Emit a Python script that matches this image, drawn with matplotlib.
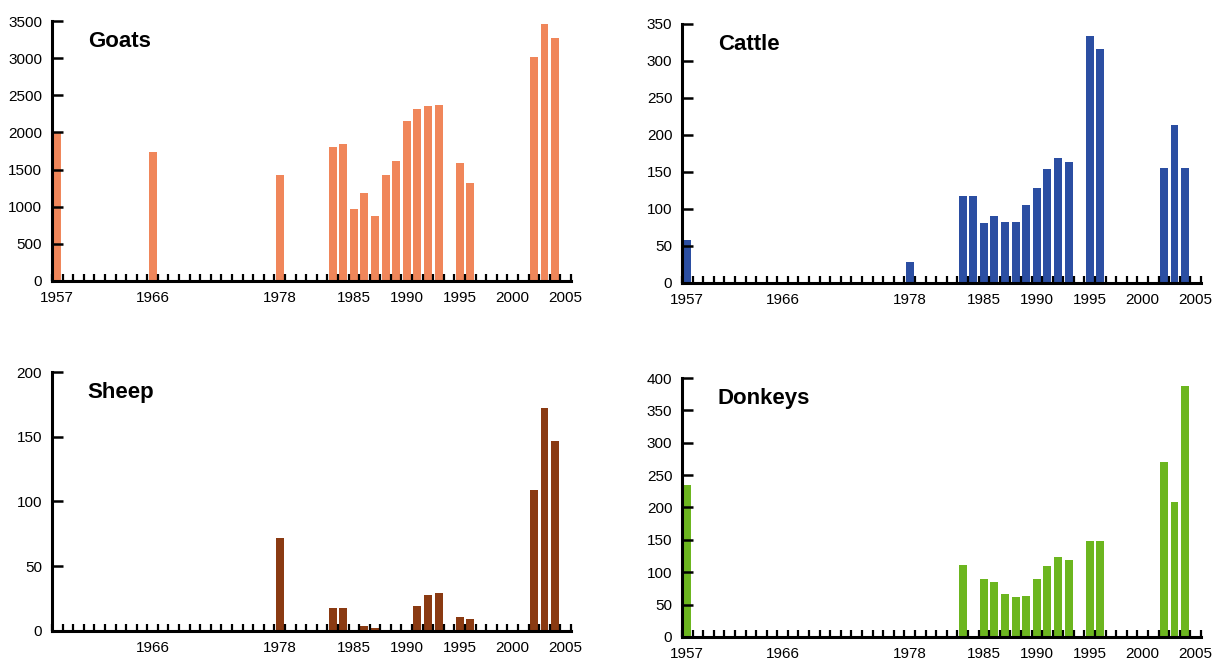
import matplotlib.pyplot as plt
import numpy as np

plt.rcParams['font.family'] = ['Liberation Sans', 'DejaVu Sans']

# data
goat_years = [1957, 1966, 1978, 1983, 1984, 1985, 1986, 1987, 1988, 1989, 1990,
              1991, 1992, 1993, 1995, 1996, 2002, 2003, 2004]
goats = [2010, 1740, 1430, 1805, 1845, 975, 1190, 870, 1430, 1610, 2160,
         2310, 2350, 2365, 1585, 1325, 3020, 3455, 3275]

cattle_years = [1957, 1978, 1983, 1984, 1985, 1986, 1987, 1988, 1989, 1990,
                1991, 1992, 1993, 1995, 1996, 2002, 2003, 2004]
cattle = [58, 29, 117, 117, 81, 90, 83, 82, 105, 128,
          154, 169, 163, 334, 316, 156, 213, 156]

sheep_years = [1978, 1983, 1984, 1986, 1987, 1991, 1992, 1993, 1995, 1996,
               2002, 2003, 2004]
sheep = [72, 18, 18, 4, 2, 19, 28, 29, 11, 9, 109, 172, 147]

donkey_years = [1957, 1983, 1985, 1986, 1987, 1988, 1989, 1990, 1991, 1992,
                1993, 1995, 1996, 2002, 2003, 2004]
donkeys = [234, 111, 90, 85, 66, 62, 63, 89, 109, 124,
           119, 149, 149, 270, 209, 387]

label_years = [1957, 1966, 1978, 1985, 1990, 1995, 2000, 2005]
sheep_label_years = [1966, 1978, 1985, 1990, 1995, 2000, 2005]

first_year, last_year = 1957, 2005

fig = plt.figure(figsize=(12.2, 6.59), dpi=100)

panels = [
    ("Goats", goat_years, goats, "#F0865A", [0.0426, 0.5736, 0.4254, 0.3945], 3500, 500, label_years),
    ("Cattle", cattle_years, cattle, "#2B4EA2", [0.559, 0.5706, 0.4254, 0.393], 350, 50, label_years),
    ("Sheep", sheep_years, sheep, "#8A3A12", [0.0426, 0.0425, 0.4254, 0.393], 200, 50, sheep_label_years),
    ("Donkeys", donkey_years, donkeys, "#6CB61F", [0.559, 0.0334, 0.4254, 0.393], 400, 50, label_years),
]

for name, yrs, vals, col, rect, ymax, ystep, labs in panels:
    ax = fig.add_axes(rect)
    ax.bar(yrs, vals, width=0.75, color=col, zorder=1)
    ax.set_xlim(first_year - 0.5, last_year + 0.5)
    ax.set_ylim(0, ymax)

    # year boundaries as ticks, labels centred on the years
    ax.set_xticks(np.arange(first_year - 0.5, last_year + 1.0, 1.0))
    ax.set_xticklabels([])
    ax.set_xticks(labs, minor=True)
    ax.set_xticklabels([str(y) for y in labs], minor=True)
    ax.tick_params(axis='x', which='major', direction='in', length=5, width=1.6,
                   color='black')
    ax.tick_params(axis='x', which='minor', length=0, pad=7, labelsize=11)

    ax.set_yticks(np.arange(0, ymax + 1, ystep))
    ax.tick_params(axis='y', direction='in', length=8, width=1.8, pad=7,
                   labelsize=11)

    for s in ['top', 'right']:
        ax.spines[s].set_visible(False)
    for s in ['left', 'bottom']:
        ax.spines[s].set_linewidth(2.2)
        ax.spines[s].set_zorder(3)

    ax.text(0.069, 0.92, name, transform=ax.transAxes, fontsize=16,
            fontweight='bold', va='center', ha='left')

fig.savefig("out.png", dpi=100)
